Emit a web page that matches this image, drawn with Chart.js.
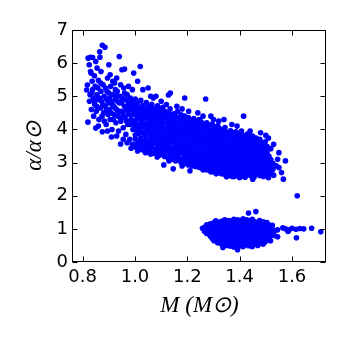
<!DOCTYPE html>
<html>
<head>
<meta charset="utf-8">
<script src="https://cdn.jsdelivr.net/npm/chart.js@4.4.1/dist/chart.umd.min.js"></script>
<style>
  html, body { margin: 0; padding: 0; background: #fff; }
  #c { display: block; }
</style>
</head>
<body>
<canvas id="c" width="346" height="346"></canvas>
<script>
// tick values
const xTicks = [0.8, 1.0, 1.2, 1.4, 1.6];
const yTicks = [0, 1, 2, 3, 4, 5, 6, 7];

// upper branch: [M, alpha], left sparse end
const upperLeft = [
  [0.815,5.19],[0.818,5.34],[0.820,4.22],[0.825,5.95],[0.830,5.75],[0.832,5.70],[0.821,6.15],[0.830,6.18],
  [0.838,6.17],[0.826,4.85],[0.833,4.60],[0.828,5.05],[0.836,5.45],[0.840,4.95],[0.842,4.40],[0.838,5.20],
  [0.845,5.62],[0.846,4.75],[0.850,4.04],[0.848,5.30],[0.852,4.55],[0.855,5.05],[0.857,4.90],[0.860,5.48],
  [0.862,4.30],[0.865,6.34],[0.866,6.18],[0.868,4.65],[0.870,5.15],[0.872,4.85],[0.875,3.93],[0.875,6.54],
  [0.885,6.48],[0.878,5.35],[0.880,4.50],[0.882,5.00],[0.886,4.70],[0.888,5.25],[0.890,4.15],[0.892,4.90],
  [0.895,5.55],[0.897,4.45],[0.900,5.10],[0.902,4.60],[0.905,4.30],[0.907,5.30],[0.910,3.77],[0.910,4.85],
  [0.912,4.00],[0.915,5.05],[0.918,4.70],[0.920,4.45],[0.922,5.40],[0.925,4.90],[0.927,4.20],[0.930,4.60],
  [0.932,5.15],[0.935,4.40],[0.937,3.95],[0.940,6.20],[0.940,4.80],[0.942,5.00],[0.945,3.56],[0.946,4.25],
  [0.948,4.55],[0.950,5.80],[0.960,5.82],[0.952,4.95],[0.955,4.05],[0.957,5.25],[0.960,4.70],[0.962,4.35],
  [0.965,3.85],[0.967,4.60],[0.970,5.05],[0.972,4.15],[0.975,4.80],[0.977,4.45],[0.980,3.70],[0.982,4.95],
  [0.985,3.43],[0.985,4.30],[0.988,4.60],[0.990,5.20],[0.992,4.00],[0.995,5.70],[0.995,4.75],[0.998,4.20],
  [0.835,5.10],[0.844,4.85],[0.853,4.70],[0.858,5.25],[0.864,4.95],[0.869,5.40],[0.874,4.40],[0.877,4.75],
  [0.883,4.25],[0.889,4.55],[0.893,5.15],[0.898,4.80],[0.903,4.95],[0.908,4.50],[0.913,4.75],[0.917,4.30],
  [0.923,4.65],[0.928,5.00],[0.933,4.85],[0.938,4.55],[0.943,4.35],[0.949,4.80],[0.953,4.50],[0.958,4.40],
  [0.963,4.90],[0.968,4.25],[0.973,4.55],[0.978,4.70],[0.983,4.15],[0.987,4.85],[0.993,4.45],[0.997,4.60],
  [0.905,5.65],[0.915,5.45],[0.930,5.55],[0.945,5.35],[0.960,5.10],[0.975,5.30],[0.900,5.95],[0.870,5.75],
  [0.855,5.85],[0.850,6.05],[0.925,5.20],[1.010,5.45],[1.030,5.20],[1.060,5.00],[1.020,5.90],[1.050,5.25],
  [0.860,4.10],[0.895,3.95],[0.930,3.80],[0.955,3.70],[0.970,3.60],[0.990,3.55]
];

// upper branch, dense middle part (one row per M value)
const upperMid = [
  [1.001,[3.47,3.71,3.83,4.09,4.27,4.51,4.70,4.92]],
  [1.008,[3.58,3.95,4.14,4.40,4.58,4.79]],
  [1.016,[3.41,3.63,3.88,4.02,4.33,4.47,4.66]],
  [1.022,[3.52,3.74,4.19,4.38,4.61,4.88]],
  [1.029,[3.38,3.66,3.92,4.08,4.29,4.54,4.73]],
  [1.037,[3.49,3.59,3.84,4.17,4.42,4.63]],
  [1.043,[3.33,3.71,3.97,4.11,4.35,4.57,4.81]],
  [1.051,[3.45,3.62,3.89,4.24,4.46,4.69]],
  [1.058,[3.36,3.54,3.78,4.03,4.18,4.39,4.60]],
  [1.064,[3.47,3.70,3.93,4.30,4.52,4.76]],
  [1.071,[3.28,3.59,3.82,4.07,4.22,4.44,4.64]],
  [1.079,[3.41,3.66,3.74,3.98,4.33,4.55]],
  [1.086,[3.31,3.53,3.87,4.12,4.27,4.49,4.71]],
  [1.093,[3.22,3.44,3.68,3.94,4.05,4.38,4.60]],
  [1.099,[3.37,3.58,3.79,4.16,4.31,4.52]],
  [1.106,[3.26,3.49,3.72,3.90,4.09,4.24,4.46,4.67]],
  [1.113,[3.18,3.40,3.63,3.85,4.01,4.36,4.55]],
  [1.121,[3.31,3.52,3.77,3.96,4.20,4.41]],
  [1.127,[3.14,3.43,3.66,3.89,4.12,4.29,4.50]],
  [1.134,[3.25,3.47,3.58,3.81,4.05,4.22,4.43,4.62]],
  [1.141,[3.10,3.36,3.70,3.93,4.15,4.35]],
  [1.148,[3.21,3.44,3.62,3.84,3.99,4.26,4.47]],
  [1.155,[3.05,3.30,3.53,3.76,4.08,4.20,4.39]],
  [1.162,[3.17,3.40,3.65,3.88,4.02,4.31,4.54]],
  [1.169,[3.08,3.26,3.49,3.71,3.94,4.13,4.35]],
  [1.176,[3.00,3.35,3.58,3.80,4.06,4.24,4.44]],
  [1.183,[3.12,3.29,3.46,3.68,3.89,4.16,4.30]],
  [1.190,[2.97,3.22,3.55,3.77,3.99,4.21,4.40]],
  [1.197,[3.08,3.33,3.44,3.63,3.86,4.09,4.27]],
  [1.204,[2.93,3.18,3.40,3.57,3.79,3.96,4.18,4.36]],
  [1.211,[3.04,3.27,3.49,3.70,3.91,4.12,4.29]],
  [1.218,[2.90,3.14,3.36,3.60,3.83,4.03,4.24]],
  [1.225,[3.01,3.23,3.45,3.52,3.75,3.97,4.16,4.33]],
  [1.232,[2.88,3.10,3.31,3.64,3.87,4.07,4.25]],
  [1.239,[2.97,3.19,3.40,3.58,3.79,3.99,4.20]],
  [1.246,[2.85,3.06,3.28,3.49,3.70,3.91,4.12,4.30]],
  [1.253,[2.94,3.15,3.37,3.61,3.82,4.04,4.22]],
  [1.260,[2.81,3.03,3.24,3.44,3.66,3.86,4.15]],
  [1.267,[2.90,3.12,3.33,3.55,3.76,3.97,4.09]],
  [1.274,[2.78,2.99,3.21,3.41,3.63,3.83,4.02,4.20]],
  [1.281,[2.87,3.08,3.29,3.50,3.71,3.92,4.13]],
  [1.288,[2.75,2.96,3.17,3.38,3.59,3.80,3.99]],
  [1.295,[2.84,3.05,3.26,3.47,3.53,3.74,3.94,4.16]],
  [1.302,[2.72,2.93,3.14,3.35,3.66,3.87,4.05]],
  [1.309,[2.81,3.02,3.22,3.43,3.61,3.81,3.99]],
  [1.316,[2.69,2.90,3.11,3.31,3.52,3.73,3.93,4.11]],
  [1.323,[2.78,2.98,3.19,3.40,3.58,3.78,4.03]],
  [1.330,[2.66,2.87,3.07,3.28,3.48,3.69,3.88]],
  [1.337,[2.75,2.95,3.15,3.36,3.56,3.83,3.97]],
  [1.344,[2.63,2.84,3.04,3.24,3.45,3.65,3.76,4.06]],
  [1.351,[2.72,2.92,3.12,3.33,3.53,3.72,3.91]],
  [1.358,[2.61,2.81,3.01,3.20,3.41,3.61,3.85]],
  [1.365,[2.69,2.89,3.09,3.29,3.49,3.68,3.96]],
  [1.372,[2.58,2.78,2.98,3.17,3.38,3.57,3.77,3.90]],
  [1.379,[2.66,2.86,3.06,3.25,3.45,3.64,3.83]],
  [1.386,[2.74,2.94,3.13,3.33,3.53,3.72,3.93]],
  [1.393,[2.62,2.82,3.02,3.21,3.41,3.60,3.79]],
  [1.400,[2.70,2.90,3.10,3.29,3.48,3.67,3.86]],
  [1.407,[2.59,2.79,2.98,3.17,3.37,3.56,3.74,3.95]],
  [1.414,[2.67,2.87,3.06,3.25,3.44,3.63,3.82]],
  [1.421,[2.56,2.75,2.94,3.13,3.33,3.52,3.71]],
  [1.428,[2.64,2.84,3.03,3.22,3.40,3.59,3.78]],
  [1.435,[2.72,2.91,3.10,3.29,3.48,3.67,3.88]],
  [1.442,[2.60,2.80,2.99,3.18,3.36,3.55,3.73]],
  [1.449,[2.68,2.87,3.06,3.25,3.44,3.62,3.80]],
  [1.456,[2.57,2.76,2.95,3.14,3.32,3.51,3.69]],
  [1.463,[2.65,2.84,3.03,3.21,3.40,3.58,3.74]],
  [1.470,[2.73,2.92,3.10,3.29,3.47,3.64]],
  [1.477,[2.61,2.80,2.99,3.17,3.36,3.55,3.70]],
  [1.484,[2.69,2.88,3.07,3.25,3.43,3.60]],
  [1.491,[2.58,2.77,2.96,3.14,3.33,3.51]],
  [1.498,[2.66,2.85,3.04,3.22,3.40,3.63]],
  [1.505,[2.74,2.93,3.12,3.30,3.48]],
  [1.512,[2.63,2.83,3.01,3.19]],
  [1.519,[2.71,2.90,3.09,3.42]],
  [1.527,[2.80,2.98]]
];

// upper branch, scattered edge points
const upperEdge = [
  [1.128,5.04],[1.135,5.10],[1.190,4.95],[1.205,4.55],[1.230,4.22],[1.270,4.92],[1.260,4.40],[1.340,4.30],
  [1.415,4.40],[1.430,3.86],[1.456,3.74],[1.510,3.74],[1.100,4.85],[1.160,4.70],[1.080,5.00],[1.300,4.30],
  [1.370,4.15],[1.480,3.90],[1.530,3.55],[1.550,3.30],[1.575,3.05],[1.540,2.90],[1.560,2.70],[1.070,4.95],
  [1.120,4.75],[1.180,4.62],[1.240,4.50],[1.290,4.40],[1.320,4.25],[1.390,4.10],[1.440,3.95],[1.500,3.82],
  [1.085,3.17],[1.110,2.93],[1.146,2.81],[1.210,2.75],[1.310,2.66],[1.350,2.57],[1.400,2.54],[1.510,2.54],
  [1.567,2.50],[1.620,2.00],[1.180,2.90],[1.260,2.78],[1.450,2.50],[1.040,3.30],[1.010,3.35],[1.060,3.25],
  [1.130,3.05],[1.290,2.72],[1.380,2.58],[1.530,2.62],[1.550,2.85],[1.545,3.10]
];

// lower branch (one row per M value)
const lowerBranch = [
  [1.258,[1.02]],
  [1.266,[0.92,1.05]],
  [1.274,[0.86,1.00,1.12]],
  [1.281,[0.96,1.07]],
  [1.288,[0.78,0.90,1.04,1.15]],
  [1.295,[0.71,0.85,0.99,1.10]],
  [1.302,[0.64,0.80,0.93,1.07,1.19]],
  [1.309,[0.75,0.88,1.01,1.14,1.24]],
  [1.316,[0.58,0.69,0.83,0.96,1.09,1.20]],
  [1.323,[0.62,0.77,0.90,1.03,1.16]],
  [1.330,[0.54,0.70,0.84,0.97,1.11,1.23]],
  [1.336,[0.44,0.61,0.79,0.92,1.05,1.18]],
  [1.343,[0.56,0.68,0.86,1.00,1.13,1.27]],
  [1.350,[0.50,0.63,0.76,0.93,1.07,1.21]],
  [1.357,[0.57,0.71,0.84,0.98,1.15,1.25]],
  [1.364,[0.48,0.62,0.78,0.91,1.04,1.19]],
  [1.371,[0.54,0.67,0.82,0.96,1.10,1.24]],
  [1.378,[0.45,0.59,0.73,0.88,1.02,1.16,1.29]],
  [1.385,[0.52,0.66,0.80,0.94,1.08,1.22]],
  [1.392,[0.37,0.57,0.71,0.85,0.99,1.13,1.27]],
  [1.399,[0.49,0.63,0.77,0.91,1.05,1.19]],
  [1.406,[0.55,0.69,0.83,0.97,1.11,1.25]],
  [1.413,[0.46,0.60,0.75,0.89,1.03,1.17,1.30]],
  [1.420,[0.52,0.66,0.80,0.94,1.08,1.22]],
  [1.427,[0.58,0.72,0.86,1.00,1.14,1.27]],
  [1.434,[0.49,0.63,0.77,0.91,1.05,1.19,1.48]],
  [1.441,[0.55,0.69,0.83,0.97,1.11,1.24]],
  [1.448,[0.46,0.61,0.75,0.89,1.03,1.17,1.29]],
  [1.455,[0.53,0.67,0.81,0.95,1.09,1.22]],
  [1.462,[0.59,0.73,0.87,1.01,1.15,1.52]],
  [1.469,[0.50,0.65,0.79,0.93,1.07,1.20]],
  [1.476,[0.56,0.71,0.85,0.99,1.13,1.25]],
  [1.483,[0.62,0.76,0.90,1.04,1.17]],
  [1.490,[0.54,0.68,0.82,0.96,1.10,1.21]],
  [1.497,[0.60,0.74,0.88,1.02,1.15]],
  [1.504,[0.66,0.80,0.94,1.08,1.19]],
  [1.511,[0.72,0.86,1.00,1.12]],
  [1.518,[0.64,0.79,0.93,1.06]],
  [1.525,[0.85,0.99,1.11]],
  [1.533,[0.80,0.94]],
  [1.545,[0.76,0.97]],
  [1.565,[1.03]],[1.575,[1.00]],[1.585,[0.92]],[1.590,[0.97]],[1.600,[1.02]],
  [1.615,[0.99]],[1.617,[0.73]],[1.630,[1.01]],[1.645,[1.00]],[1.675,[1.02]],[1.710,[0.91]]
];

const pairsToXY = (pts) => pts.map(([m, a]) => ({ x: m, y: a }));
const rowsToXY = (rows) => rows.flatMap(([m, as]) => as.map((a) => ({ x: m, y: a })));

const allPoints = pairsToXY(upperLeft)
  .concat(rowsToXY(upperMid), pairsToXY(upperEdge), rowsToXY(lowerBranch));

// box with inward ticks on all four sides
const frameTicks = {
  id: "frameTicks",
  afterDatasetsDraw(chart) {
    const { ctx, chartArea: a, scales } = chart;
    const L = Math.round(a.left) - 0.5, R = Math.round(a.right) - 0.5;
    const T = Math.round(a.top) + 0.5, B = Math.round(a.bottom) - 0.5;
    const len = 5;
    ctx.save();
    ctx.strokeStyle = "#000";
    ctx.lineWidth = 1;
    ctx.beginPath();
    scales.x.ticks.forEach((t) => {
      const p = Math.round(scales.x.getPixelForValue(t.value)) + 0.5;
      ctx.moveTo(p, B); ctx.lineTo(p, B - len);
      ctx.moveTo(p, T); ctx.lineTo(p, T + len);
    });
    scales.y.ticks.forEach((t) => {
      const p = Math.round(scales.y.getPixelForValue(t.value)) + 0.5;
      ctx.moveTo(L, p); ctx.lineTo(L + len, p);
      ctx.moveTo(R, p); ctx.lineTo(R - len, p);
    });
    ctx.stroke();
    ctx.strokeRect(L, T, R - L, B - T);
    ctx.restore();
  },
};

const tickFont = { family: "'DejaVu Sans'", size: 18 };
const titleFont = { family: "'Liberation Serif'", size: 23, style: "italic" };

new Chart(document.getElementById("c"), {
  type: "scatter",
  data: {
    datasets: [
      {
        data: allPoints,
        backgroundColor: "#0000ff",
        borderWidth: 0,
        pointRadius: 2.8,
        pointHoverRadius: 2.8,
      },
    ],
  },
  options: {
    responsive: false,
    animation: false,
    events: [],
    layout: { padding: { left: 0, top: 30, right: 20, bottom: 0 } },
    plugins: { legend: { display: false }, tooltip: { enabled: false } },
    scales: {
      x: {
        type: "linear",
        min: 0.763,
        max: 1.73,
        afterBuildTicks: (s) => { s.ticks = xTicks.map((v) => ({ value: v })); },
        afterFit: (s) => { s.height = 84; },
        grid: { display: false, drawTicks: false },
        border: { display: false },
        ticks: {
          color: "#000",
          font: tickFont,
          padding: 5,
          maxRotation: 0,
          autoSkip: false,
          callback: (v) => Number(v).toFixed(1),
        },
        title: {
          display: true,
          text: "M (M⊙)",
          color: "#000",
          font: titleFont,
          padding: { top: 0, bottom: 26 },
        },
      },
      y: {
        type: "linear",
        min: 0,
        max: 7,
        afterBuildTicks: (s) => { s.ticks = yTicks.map((v) => ({ value: v })); },
        afterFit: (s) => { s.width = 73; },
        grid: { display: false, drawTicks: false },
        border: { display: false },
        ticks: {
          color: "#000",
          font: tickFont,
          padding: 5,
          autoSkip: false,
          callback: (v) => String(v),
        },
        title: {
          display: true,
          text: "α/α⊙",
          color: "#000",
          font: titleFont,
          padding: { top: 21, bottom: 0 },
        },
      },
    },
  },
  plugins: [frameTicks],
});
</script>
</body>
</html>
